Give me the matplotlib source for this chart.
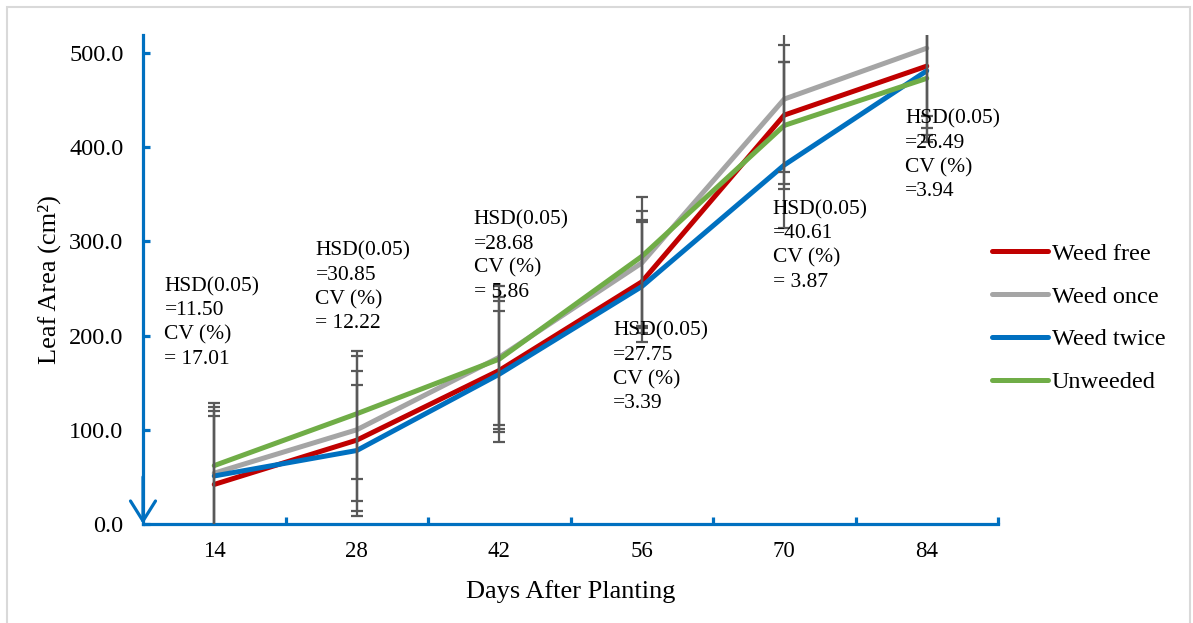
import numpy as np
import matplotlib
matplotlib.use("Agg")
import matplotlib.pyplot as plt
from matplotlib.patches import Rectangle
from matplotlib.ticker import FixedLocator, FormatStrFormatter

# leaf area (cm2)
days = [14, 28, 42, 56, 70, 84]
weed_free = [42, 89, 163, 257, 434, 486]
weed_once = [54, 100, 177, 277, 451, 505]
weed_twice = [51, 78, 159, 252, 381, 481]
unweeded = [62, 117, 175, 284, 423, 473]

series_names = ["Weed free", "Weed once", "Weed twice", "Unweeded"]

# error bar ends per day (four bars on each day)
bar_top = [[128.5, 124, 119.6, 115],
           [184, 178, 162.7, 147.6],
           [252.7, 241.3, 237, 226.4],
           [347.5, 332.3, 322.7, 320],
           [530, 508.5, 490.8, 490],
           [560, 570, 580, 590]]
bar_bottom = [[-25, -20, -16, -11],
              [8.8, 13.8, 24.4, 47.4],
              [87, 97.3, 101.2, 105],
              [193.5, 202.8, 207.7, 210],
              [314, 355.6, 360.6, 374],
              [405, 413, 420, 433]]

hsd_values = ["=11.50", "=30.85", "=28.68", "=27.75", "=40.61", "=26.49"]
cv_values = ["= 17.01", "= 12.22", "= 5.86", "=3.39", "= 3.87", "=3.94"]

COLORS = ["#C00000", "#A5A5A5", "#0070C0", "#70AD47"]
AXIS_BLUE = "#0070C0"
BAR_GRAY = "#595959"

# where each HSD note sits (x in category units, y top in data units)
note_pos = [(-0.35, 262), (0.71, 300), (1.82, 333), (2.80, 215), (3.92, 344), (4.85, 440)]

plt.rcParams["font.family"] = ["Liberation Serif", "DejaVu Serif"]

fig = plt.figure(figsize=(11.93, 6.23), dpi=100)
ax = fig.add_axes([143 / 1193, 1 - 524 / 623, (998 - 143) / 1193, (524 - 35) / 623])

x = np.arange(len(days))
all_series = [weed_free, weed_once, weed_twice, unweeded]
for vals, name, col in zip(all_series, series_names, COLORS):
    ax.plot(x, vals, color=col, lw=3.6, label=name, solid_capstyle="round",
            solid_joinstyle="round", zorder=3)

top = np.array(bar_top)
bot = np.array(bar_bottom)
for j in range(top.shape[1]):
    mid = (top[:, j] + bot[:, j]) / 2
    half = (top[:, j] - bot[:, j]) / 2
    ax.errorbar(x, mid, yerr=half, fmt="none", ecolor=BAR_GRAY, elinewidth=1.6,
                capsize=4.5, capthick=1.6, zorder=4)

for i in range(len(days)):
    nx, ny = note_pos[i]
    ax.text(nx, ny, "HSD(0.05)\n" + hsd_values[i] + "\nCV (%)\n" + cv_values[i],
            fontsize=15.5, va="top", ha="left", linespacing=1.36, zorder=5)

ax.set_xlim(-0.5, len(days) - 0.5)
ax.set_ylim(0, 519)

for s in ["top", "right"]:
    ax.spines[s].set_visible(False)
for s in ["left", "bottom"]:
    ax.spines[s].set_color(AXIS_BLUE)
    ax.spines[s].set_linewidth(2.3)

ax.yaxis.set_major_locator(FixedLocator([0, 100, 200, 300, 400, 500]))
ax.yaxis.set_major_formatter(FormatStrFormatter("%.1f"))
ax.tick_params(axis="y", direction="in", length=5, width=2.3, color=AXIS_BLUE,
               labelsize=17.5, pad=14)

ax.xaxis.set_major_locator(FixedLocator(np.arange(0.5, len(days), 1.0)))
ax.xaxis.set_major_formatter(plt.NullFormatter())
ax.xaxis.set_minor_locator(FixedLocator(x))
ax.set_xticklabels([str(d) for d in days], minor=True)
ax.tick_params(axis="x", which="major", direction="in", length=5, width=2.3, color=AXIS_BLUE)
ax.tick_params(axis="x", which="minor", length=0, labelsize=16.5, pad=12)

ax.annotate("", xy=(-0.5, 0), xytext=(-0.5, 50), xycoords="data",
            arrowprops=dict(arrowstyle="->, head_length=0.72, head_width=0.45",
                            color=AXIS_BLUE, lw=2.3, mutation_scale=20,
                            shrinkA=0, shrinkB=0), annotation_clip=False)

ax.set_xlabel("Days After Planting", fontsize=19, labelpad=13)
ax.set_ylabel("Leaf Area (cm²)", fontsize=19, labelpad=6)

fig.legend(loc="center left", bbox_to_anchor=(992 / 1193, 1 - 318 / 623), frameon=False,
           fontsize=17.5, handlelength=2.3, handletextpad=0.15, labelspacing=0.86,
           borderpad=0, borderaxespad=0)

fig.patches.append(Rectangle((7 / 1193, -0.02), (1190 - 7) / 1193, 1.02 - 7 / 623,
                             transform=fig.transFigure, fill=False, edgecolor="#D9D9D9",
                             lw=1.5))

fig.savefig("out.png", dpi=100)
